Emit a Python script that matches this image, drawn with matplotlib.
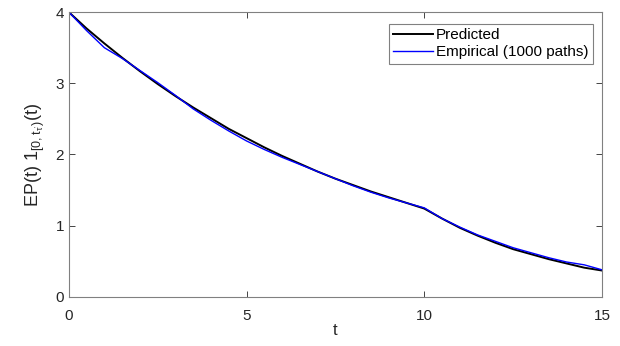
import numpy as np
import matplotlib
matplotlib.use('Agg')
import matplotlib.pyplot as plt

plt.rcParams['font.family'] = ['Liberation Sans', 'DejaVu Sans']
plt.rcParams['mathtext.default'] = 'regular'

# data
t = np.arange(0, 15.01, 0.5)
predicted = [4.00, 3.77, 3.56, 3.36, 3.17, 2.99, 2.82, 2.66, 2.51, 2.36,
             2.23, 2.10, 1.98, 1.87, 1.76, 1.66, 1.57, 1.48, 1.40, 1.32,
             1.24, 1.10, 0.97, 0.86, 0.76, 0.67, 0.60, 0.53, 0.47, 0.41, 0.37]
empirical = [4.00, 3.74, 3.50, 3.35, 3.18, 3.01, 2.83, 2.64, 2.48, 2.33,
             2.19, 2.07, 1.96, 1.86, 1.76, 1.66, 1.56, 1.47, 1.39, 1.32,
             1.25, 1.10, 0.98, 0.87, 0.78, 0.69, 0.62, 0.55, 0.49, 0.45, 0.38]
x_ticks = [0, 5, 10, 15]
y_ticks = [0, 1, 2, 3, 4]

fig = plt.figure(figsize=(6.2, 3.46), dpi=100)
ax = fig.add_axes([0.111, 0.142, 0.860, 0.823])

ax.plot(t, predicted, color='black', lw=1.4, label='Predicted')
ax.plot(t, empirical, color='#0000ff', lw=1.0, label='Empirical (1000 paths)')

ax.set_xlim(0, 15)
ax.set_ylim(0, 4)
ax.set_xticks(x_ticks)
ax.set_yticks(y_ticks)
ax.tick_params(direction='in', length=4, labelsize=11, colors='#262626',
               top=True, right=True, width=0.6)
ax.tick_params(axis='x', pad=9)
for s in ax.spines.values():
    s.set_color('#808080')
    s.set_linewidth(0.8)

ax.set_xlabel('t', fontsize=12, color='#262626', labelpad=0)
ax.set_ylabel(r"EP(t) 1$_{[0,t_{\tau'})}$(t)", fontsize=13, color='#262626',
              labelpad=6)

leg = ax.legend(loc='upper right', bbox_to_anchor=(0.983, 0.96), fontsize=11,
                fancybox=False, framealpha=1, edgecolor='#808080',
                borderpad=0.3, labelspacing=0.2, handlelength=2.6,
                handletextpad=0.2, borderaxespad=0)
leg.get_frame().set_linewidth(0.8)

plt.savefig('out.png', dpi=100)
